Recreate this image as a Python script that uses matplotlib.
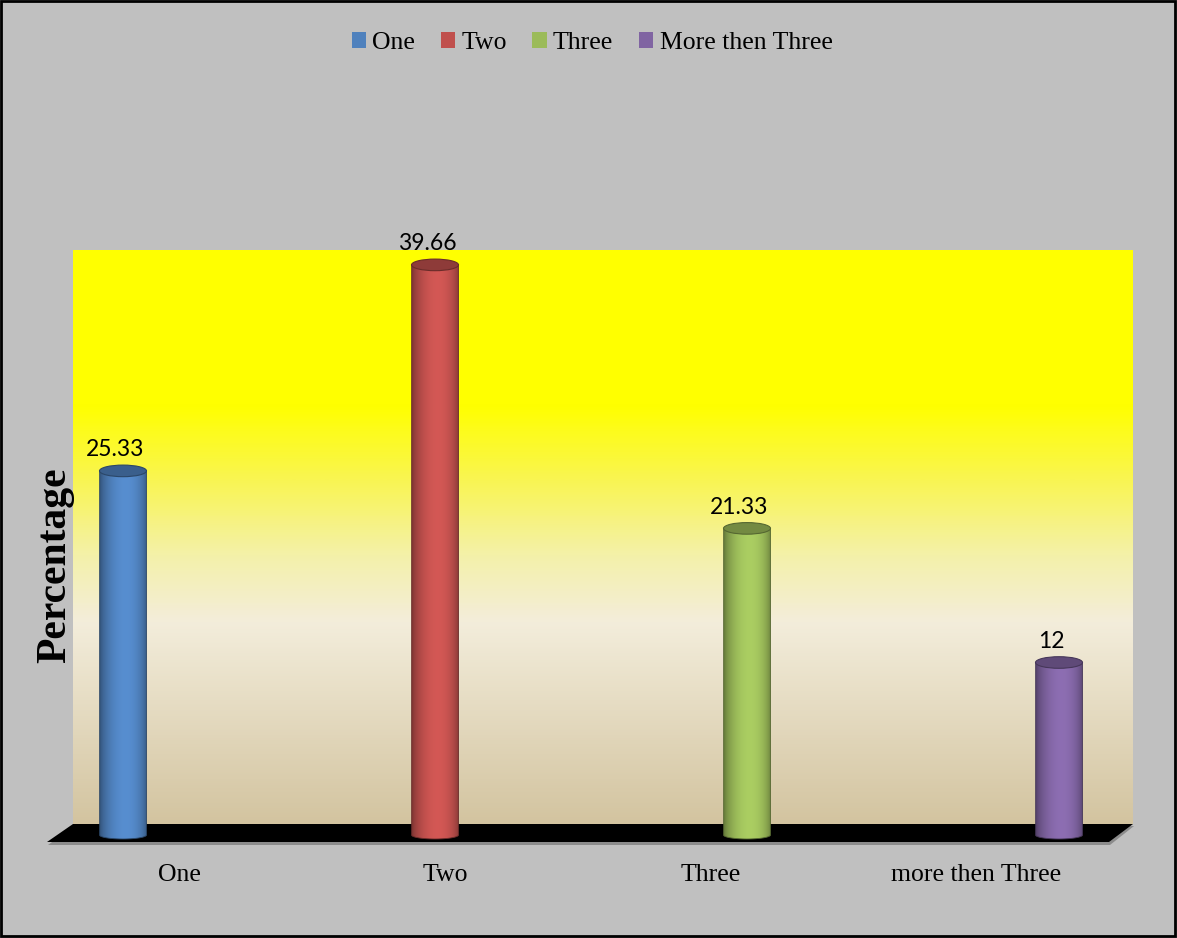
import numpy as np
import matplotlib
matplotlib.use("Agg")
import matplotlib.pyplot as plt
from matplotlib.patches import Polygon, Ellipse, PathPatch, Rectangle, Patch
from matplotlib.path import Path
from matplotlib.colors import to_rgb, LinearSegmentedColormap

# ---- data ----
categories = ["One", "Two", "Three", "more then Three"]
legend_labels = ["One", "Two", "Three", "More then Three"]
percentages = [25.33, 39.66, 21.33, 12]
value_labels = ["25.33", "39.66", "21.33", "12"]
bar_colors = ["#4f81bd", "#c0504d", "#9bbb59", "#8064a2"]

# ---- canvas ----
W, H = 1177, 938
DPI = 100
fig = plt.figure(figsize=(W / DPI, H / DPI), dpi=DPI, facecolor="#c0c0c0")

# background layer in pixel coordinates (wall, floor, frame)
bg = fig.add_axes([0, 0, 1, 1], zorder=0)
bg.axis("off")

wall_l, wall_r, wall_t, wall_b = 73, 1133, 250, 824
wall_stops = [(0.00, "#ffff00"), (0.27, "#ffff00"), (0.40, "#f9f552"),
              (0.53, "#f4f1a8"), (0.65, "#f3eddb"), (1.00, "#d3c4a0")]
wall_cmap = LinearSegmentedColormap.from_list("wall", wall_stops)
bg.imshow(np.linspace(0, 1, 500)[:, None], cmap=wall_cmap, origin="upper",
          extent=(wall_l, wall_r, wall_b, wall_t), aspect="auto",
          interpolation="bilinear", zorder=1)

floor_top, floor_bot = 824, 842
floor_fl, floor_fr = 47, 1109
shadow = Polygon([(wall_l + 1, floor_top + 2), (wall_r + 1, floor_top + 2),
                  (floor_fr + 1, floor_bot + 3), (floor_fl + 1, floor_bot + 3)],
                 closed=True, fc="#8c8c8c", ec="none", zorder=1.5)
bg.add_patch(shadow)
floor = Polygon([(wall_l, floor_top), (wall_r, floor_top),
                 (floor_fr, floor_bot), (floor_fl, floor_bot)],
                closed=True, fc="black", ec="none", zorder=2)
bg.add_patch(floor)

bg.add_patch(Rectangle((1, 1), W - 3, H - 3, fill=False, ec="black", lw=2, zorder=3))
bg.set_xlim(0, W)
bg.set_ylim(H, 0)

# category labels centred in equal slots along the floor's front edge
slot = (floor_fr - floor_fl) / len(categories)
for i, name in enumerate(categories):
    bg.text(floor_fl + (i + 0.5) * slot, 875, name, ha="center", va="center",
            fontsize=18.5, family="Liberation Serif", color="black", zorder=4)

# ---- data axes ----
px_per_unit = 14.375
zero_px = 835
bar_first_px, bar_pitch_px = 123, 312
ax_l, ax_r, ax_t, ax_b = 73, 1133, 250, 850
ax = fig.add_axes([ax_l / W, (H - ax_b) / H, (ax_r - ax_l) / W, (ax_b - ax_t) / H], zorder=2)
ax.patch.set_alpha(0)
ax.axis("off")
xlim = ((ax_l - bar_first_px) / bar_pitch_px, (ax_r - bar_first_px) / bar_pitch_px)
ylim = ((zero_px - ax_b) / px_per_unit, (zero_px - ax_t) / px_per_unit)

bar_w = 47 / bar_pitch_px
ry = 5.8 / px_per_unit
ry_base = 4.0 / px_per_unit

t = np.linspace(0, 1, 96)
shade = 0.64 + 0.46 * np.sin(np.pi * t ** 1.15) ** 0.55

for i, (v, c) in enumerate(zip(percentages, bar_colors)):
    x = i
    base = np.array(to_rgb(c))
    img = np.clip(base[None, None, :] * shade[None, :, None], 0, 1)
    im = ax.imshow(img, extent=(x - bar_w / 2, x + bar_w / 2, -ry_base, v), aspect="auto",
                   interpolation="bilinear", zorder=3)
    theta = np.linspace(np.pi, 2 * np.pi, 48)
    bottom = np.column_stack([x + bar_w / 2 * np.cos(theta), ry_base * np.sin(theta)])
    verts = [(x - bar_w / 2, v)] + [tuple(p) for p in bottom] + [(x + bar_w / 2, v), (x - bar_w / 2, v)]
    body = PathPatch(Path(verts), fc="none", ec=tuple(base * 0.55), lw=0.6, zorder=3.5)
    ax.add_patch(body)
    im.set_clip_path(body)
    ax.add_patch(Ellipse((x, v), bar_w, 2 * ry, fc=tuple(base * 0.74),
                         ec=tuple(base * 0.55), lw=0.8, zorder=4))
    ax.annotate(value_labels[i], (x, v), xytext=(-8, 21), textcoords="offset pixels",
                ha="center", va="center", fontsize=16.5, family="Lato",
                color="black", zorder=5)

ax.set_xlim(*xlim)
ax.set_ylim(*ylim)

# ---- legend and axis title ----
handles = [Patch(fc=c, ec="none") for c in bar_colors]
fig.legend(handles, legend_labels, loc="center", bbox_to_anchor=(592 / W, 1 - 43 / H),
           ncol=4, frameon=False, prop={"family": "Liberation Serif", "size": 18.5},
           handlelength=0.55, handleheight=0.55, handletextpad=0.25,
           columnspacing=1.0, borderaxespad=0)

fig.text(55 / W, 1 - 565 / H, "Percentage", rotation=90, ha="center", va="center",
         fontsize=30, fontweight="bold", family="Liberation Serif", color="black")

fig.savefig("out.png", dpi=DPI, facecolor=fig.get_facecolor())
